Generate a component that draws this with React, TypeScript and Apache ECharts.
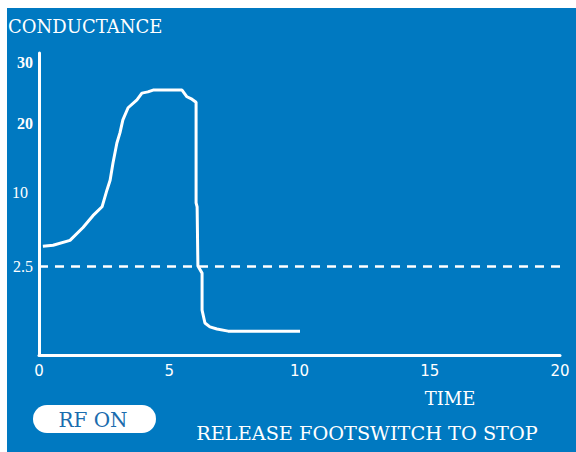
import React, { useEffect, useRef } from "react";
import * as echarts from "echarts";

// Time (x) and conductance (y) readings of the trace
const timeValues = [0.15, 0.54, 1.19, 1.69, 2.07, 2.42, 2.61, 2.73, 2.84, 2.99, 3.11, 3.22, 3.42, 3.76, 3.95, 4.18, 4.38, 5.49, 5.68, 5.87, 6.03, 6.03, 6.07, 6.1, 6.26, 6.26, 6.37, 6.56, 6.83, 7.26, 10.02];
const conductanceValues = [4.5, 4.6, 5.1, 6.4, 7.6, 8.5, 10.3, 11.7, 14.2, 17.1, 18.6, 20.5, 22.5, 23.8, 24.9, 25.1, 25.4, 25.4, 24.3, 23.9, 23.4, 8.9, 8.5, 2.5, 2.3, 1.26, 0.9, 0.79, 0.73, 0.67, 0.67];

// Y tick labels (conductance) and the threshold
const yTickValues = [2.5, 10, 20, 30];
const yTickStyle = ["r", "m", "b", "b"];
const thresholdValue = 2.5;
const xTicks = [0, 5, 10, 15, 20];

// Non-linear conductance scale of the display: anchor conductances -> axis units
const scaleConductance = [0, 2.5, 10, 20, 30];
const scaleUnits = [0, 89, 163, 232, 293];
const axisMaxUnits = 302;

function toUnits(c: number): number {
  const n = scaleConductance.length;
  let i = 0;
  while (i < n - 2 && c > scaleConductance[i + 1]) i++;
  const c0 = scaleConductance[i], c1 = scaleConductance[i + 1];
  const u0 = scaleUnits[i], u1 = scaleUnits[i + 1];
  return u0 + ((c - c0) / (c1 - c0)) * (u1 - u0);
}

const BLUE = "#0079c1";
const SERIF = "'Liberation Serif', 'DejaVu Serif', serif";
const WIDE_SERIF = "'DejaVu Serif', serif";

export default function App() {
  const ref = useRef<HTMLDivElement>(null);
  useEffect(() => {
    if (!ref.current) return;
    const chart = echarts.init(ref.current, undefined, { renderer: "svg" });
    const tickUnits = yTickValues.map(toUnits);
    const labelFor = (v: number) => {
      let best = 0;
      tickUnits.forEach((u, i) => {
        if (Math.abs(u - v) < Math.abs(tickUnits[best] - v)) best = i;
      });
      return `{${yTickStyle[best]}|${yTickValues[best]}}`;
    };
    chart.setOption({
      animation: false,
      backgroundColor: BLUE,
      grid: { left: 39, right: 16, top: 53, bottom: 97 },
      xAxis: {
        type: "value",
        min: xTicks[0],
        max: xTicks[xTicks.length - 1],
        interval: 5,
        axisLine: { show: true, lineStyle: { color: "#fff", width: 3 } },
        axisTick: { show: false },
        splitLine: { show: false },
        axisLabel: {
          color: "#fff",
          fontFamily: "'DejaVu Sans', sans-serif",
          fontSize: 15,
          margin: 8,
        },
      },
      yAxis: {
        type: "value",
        min: 0,
        max: axisMaxUnits,
        axisLine: { show: true, lineStyle: { color: "#fff", width: 3 } },
        axisTick: { show: false },
        splitLine: { show: false },
        axisLabel: {
          customValues: tickUnits,
          margin: 6,
          formatter: (v: number) => labelFor(v),
          rich: {
            b: { color: "#fff", fontFamily: SERIF, fontSize: 16, fontWeight: "bold" },
            r: { color: "#fff", fontFamily: SERIF, fontSize: 16 },
            m: { color: "#fff", fontFamily: SERIF, fontSize: 16, padding: [0, 5, 0, 0] },
          },
        },
      },
      series: [
        {
          type: "line",
          data: timeValues.map((t, i) => [t, toUnits(conductanceValues[i])]),
          symbol: "none",
          lineStyle: { color: "#fff", width: 3 },
          z: 3,
          markLine: {
            silent: true,
            symbol: "none",
            label: { show: false },
            lineStyle: { color: "#fff", width: 2.5, type: [9, 7] },
            data: [{ yAxis: toUnits(thresholdValue) }],
          },
        },
      ],
      graphic: [
        { type: "rect", shape: { x: 0, y: 0, width: 576, height: 8 }, style: { fill: "#fff" } },
        { type: "rect", shape: { x: 0, y: 0, width: 7, height: 452 }, style: { fill: "#fff" } },
        {
          type: "text",
          x: 8,
          y: 26,
          style: { text: "CONDUCTANCE", fill: "#fff", font: `18px ${WIDE_SERIF}`, textVerticalAlign: "middle" },
        },
        {
          type: "text",
          x: 450,
          y: 398,
          style: { text: "TIME", fill: "#fff", font: `18px ${WIDE_SERIF}`, textAlign: "center", textVerticalAlign: "middle" },
        },
        {
          type: "rect",
          shape: { x: 33, y: 405, width: 123, height: 28, r: 14 },
          style: { fill: "#fff" },
        },
        {
          type: "text",
          x: 93,
          y: 420,
          style: { text: "RF ON", fill: "#1a6cae", font: `20px ${WIDE_SERIF}`, textAlign: "center", textVerticalAlign: "middle" },
        },
        {
          type: "text",
          x: 367,
          y: 433,
          style: { text: "RELEASE FOOTSWITCH TO STOP", fill: "#fff", font: `19.3px ${WIDE_SERIF}`, textAlign: "center", textVerticalAlign: "middle" },
        },
      ],
    });
    return () => chart.dispose();
  }, []);
  return (
    <div
      ref={ref}
      style={{ position: "fixed", left: 0, top: 0, width: 576, height: 452 }}
    />
  );
}
